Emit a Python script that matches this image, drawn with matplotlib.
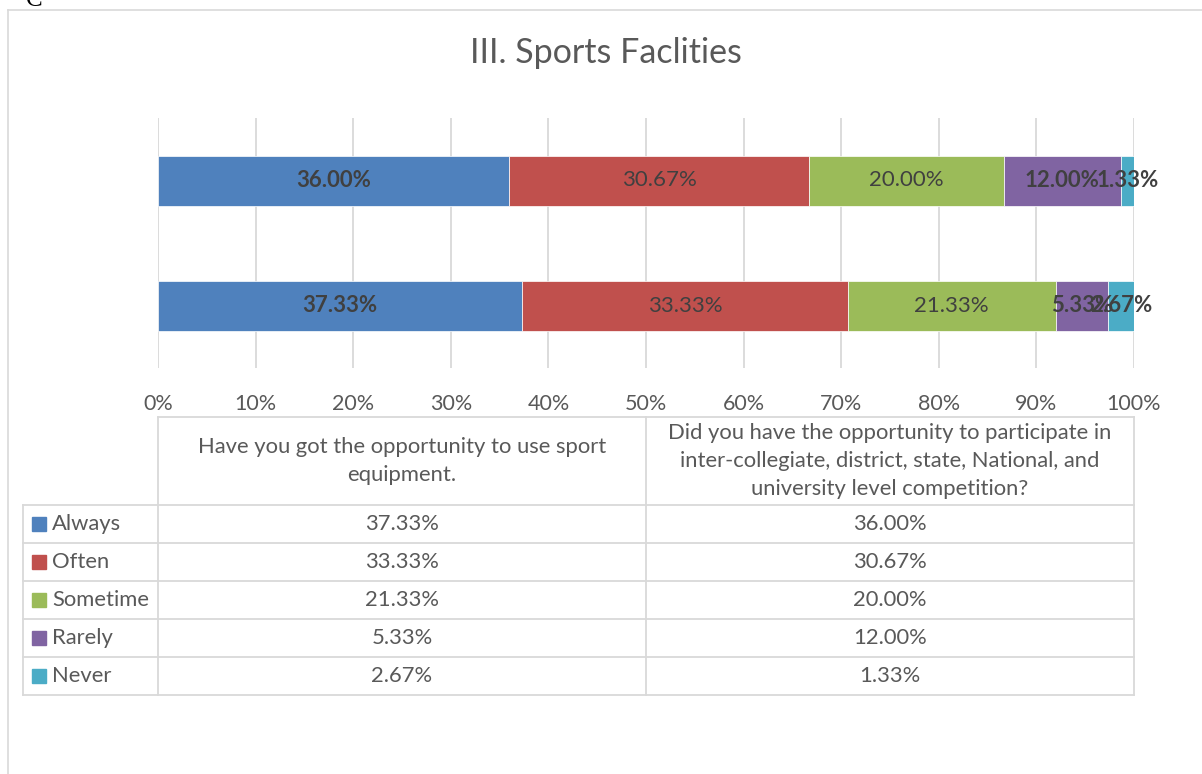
import matplotlib
matplotlib.use("Agg")
import matplotlib.pyplot as plt
import numpy as np

plt.rcParams['font.family'] = ['Lato', 'DejaVu Sans']

# data
title = "III. Sports Faclities"
categories = ["Have you got the opportunity to use sport\nequipment.",
              "Did you have the opportunity to participate in\ninter-collegiate, district, state, National, and\nuniversity level competition?"]
series = ["Always", "Often", "Sometime", "Rarely", "Never"]
always = [37.33, 36.00]
often = [33.33, 30.67]
sometime = [21.33, 20.00]
rarely = [5.33, 12.00]
never = [2.67, 1.33]
values = [always, often, sometime, rarely, never]
colors = ['#4F81BD', '#C0504D', '#9BBB59', '#8064A2', '#4BACC6']
bold_labels = [True, False, False, True, True]
xticks = [0, 10, 20, 30, 40, 50, 60, 70, 80, 90, 100]

W, H = 1202, 774
grid_c = '#d9d9d9'
text_c = '#595959'

fig = plt.figure(figsize=(W / 100, H / 100), dpi=100)

# overlay in pixel coords for frame and table
ov = fig.add_axes([0, 0, 1, 1])
ov.set_xlim(0, W)
ov.set_ylim(H, 0)
ov.axis('off')

# chart frame
ov.plot([8, W], [10, 10], color=grid_c, lw=1.2)
ov.plot([8, 8], [10, H], color=grid_c, lw=1.2)
ov.text(26, 6, "C", fontsize=18, family='Liberation Serif', color='black',
        va='baseline', ha='left')

ov.text(606, 53, title, fontsize=24.5, color=text_c, ha='center', va='center')

# bar axes
x0, x1, y0, y1 = 158, 1134, 118, 368
ax = fig.add_axes([x0 / W, 1 - y1 / H, (x1 - x0) / W, (y1 - y0) / H])
ypos = np.arange(len(categories))
left = np.zeros(len(categories))
for i, s in enumerate(series):
    v = np.array(values[i])
    ax.barh(ypos, v, left=left, height=0.4, color=colors[i],
            edgecolor='white', linewidth=0.5, zorder=3)
    for j in range(len(categories)):
        ax.text(left[j] + v[j] / 2, ypos[j], f"{v[j]:.2f}%",
                ha='center', va='center', fontsize=16, color='#404040',
                fontweight='bold' if bold_labels[i] else 'normal', zorder=4)
    left += v

ax.set_xlim(0, 100)
ax.set_ylim(-0.5, 1.5)
ax.set_xticks(xticks)
ax.set_xticklabels([f"{t}%" for t in xticks])
ax.tick_params(axis='x', length=0, pad=19, labelsize=15.5, labelcolor=text_c)
ax.set_yticks([])
ax.grid(axis='x', color=grid_c, lw=1.3, zorder=0)
for sp in ax.spines.values():
    sp.set_visible(False)
ax.patch.set_alpha(0)

# data table
col_x = [158, 646, 1134]
row_y = [417, 505, 543, 581, 619, 657, 695]
lw_t = 1.3
ov.plot([col_x[0], col_x[-1]], [row_y[0], row_y[0]], color=grid_c, lw=lw_t)
for y in row_y[1:]:
    ov.plot([23, col_x[-1]], [y, y], color=grid_c, lw=lw_t)
ov.plot([23, 23], [row_y[1], row_y[-1]], color=grid_c, lw=lw_t)
for x in col_x:
    ov.plot([x, x], [row_y[0], row_y[-1]], color=grid_c, lw=lw_t)

for j, cat in enumerate(categories):
    cx = (col_x[j] + col_x[j + 1]) / 2
    ov.text(cx, (row_y[0] + row_y[1]) / 2, cat, ha='center', va='center',
            fontsize=15.8, color=text_c, linespacing=1.5)

for i, s in enumerate(series):
    cy = (row_y[i + 1] + row_y[i + 2]) / 2
    ov.add_patch(plt.Rectangle((32, cy - 7), 14, 14, color=colors[i]))
    ov.text(52, cy, s, ha='left', va='center', fontsize=15.8, color=text_c)
    for j in range(len(categories)):
        cx = (col_x[j] + col_x[j + 1]) / 2
        ov.text(cx, cy, f"{values[i][j]:.2f}%", ha='center', va='center',
                fontsize=15.8, color=text_c)

fig.savefig("out.png", dpi=100)
